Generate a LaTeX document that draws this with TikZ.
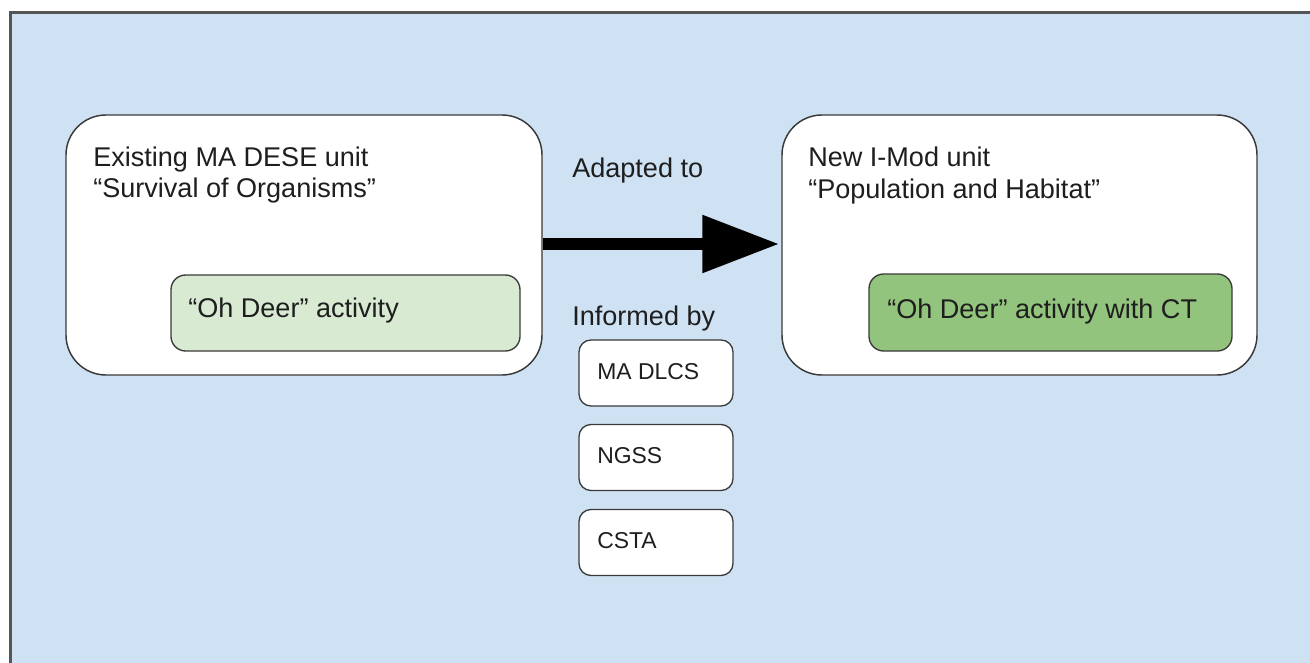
\documentclass[tikz,border=0pt]{standalone}
\usepackage{fontspec}
\setmainfont{Liberation Sans}
\usetikzlibrary{arrows.meta}
\definecolor{bgblue}{HTML}{CFE2F3}
\definecolor{lightgreen}{HTML}{D9EAD3}
\definecolor{midgreen}{HTML}{93C47D}
\definecolor{framegray}{HTML}{555555}
\definecolor{boxline}{HTML}{3A3A3A}
\definecolor{txt}{HTML}{1E1E1E}
\tikzset{
  unitbox/.style={draw=boxline, line width=1.1pt, fill=white, rounded corners=30pt,
    minimum width=357pt, minimum height=195pt, inner sep=0pt},
  actbox/.style={draw=boxline, line width=1pt, rounded corners=11pt,
    minimum height=57pt, inner sep=0pt},
  stdbox/.style={draw=boxline, line width=1pt, fill=white, rounded corners=9pt,
    minimum width=115.5pt, minimum height=49.5pt, inner sep=0pt},
  bigtext/.style={anchor=base west, inner sep=0pt, text=txt,
    font=\fontsize{20.3}{23.3}\selectfont},
  smalltext/.style={anchor=base west, inner sep=0pt, text=txt,
    font=\fontsize{17.2}{20}\selectfont},
}
\begin{document}
\begin{tikzpicture}[x=0.75pt, y=-0.75pt]
\useasboundingbox (0,0) rectangle (1310,663);
\fill[white] (0,0) rectangle (1310,663);
\fill[bgblue] (10,12) rectangle (1310,663);
\draw[framegray, line width=1.6pt] (10.5,663) -- (10.5,12.5) -- (1310,12.5);

% unit boxes
\node[unitbox] (left) at (304,245) {};
\node[unitbox, minimum width=356.25pt] (right) at (1019.5,245) {};

% activity boxes
\node[actbox, fill=lightgreen, minimum width=261.75pt] (lact) at (345.5,313) {};
\node[actbox, fill=midgreen, minimum width=272.25pt, minimum height=57.75pt] (ract) at (1050.5,312.5) {};

% standards boxes
\node[stdbox] (dlcs) at (656,373) {};
\node[stdbox] (ngss) at (656,457.5) {};
\node[stdbox] (csta) at (656,542.5) {};

% texts
\node[bigtext] (lt1) at (93,167) {Existing MA DESE unit};
\node[bigtext] (lt2) at (93,198) {“Survival of Organisms”};
\node[bigtext] (rt1) at (808,167) {New I-Mod unit};
\node[bigtext] (rt2) at (808,199) {“Population and Habitat”};
\node[bigtext] (la) at (188,317) {“Oh Deer” activity};
\node[bigtext] (ra) at (887,318) {“Oh Deer” activity with CT};
\node[bigtext] (adapted) at (572,178) {Adapted to};
\node[bigtext] (informed) at (572,325) {Informed by};
\node[smalltext] (t1) at (597,379) {MA DLCS};
\node[smalltext] (t2) at (597,463.5) {NGSS};
\node[smalltext] (t3) at (597,548.5) {CSTA};

% arrow
\draw[line width=9pt, -{Triangle[length=57.75pt, width=41.25pt]}]
  (left.east |- 0,244) -- ([xshift=-1.5pt]right.west |- 0,244);
\end{tikzpicture}
\end{document}
